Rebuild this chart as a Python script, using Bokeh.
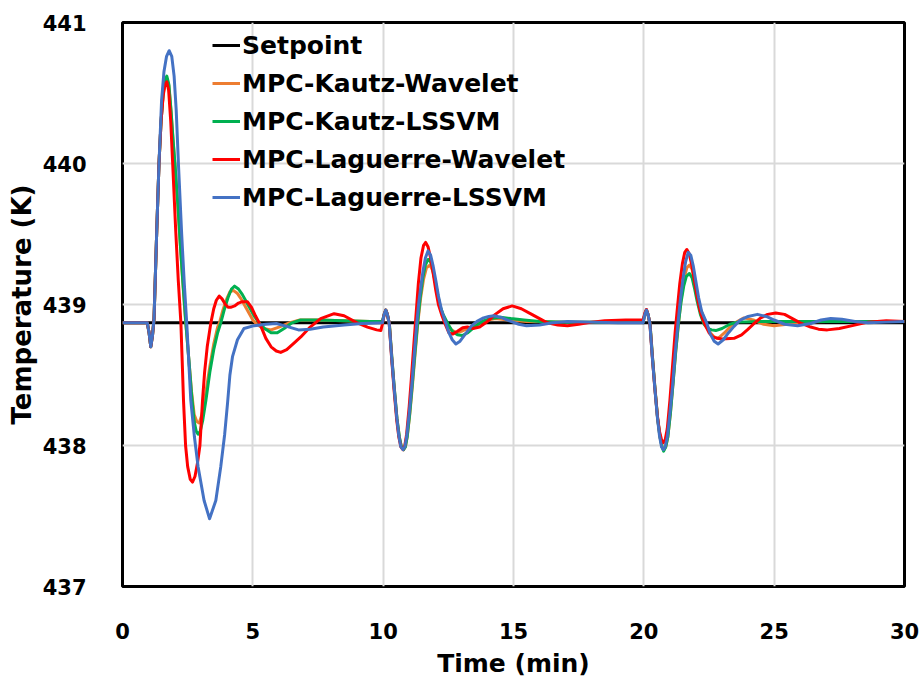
from bokeh.plotting import figure
from bokeh.models import Legend, LegendItem, FixedTicker
from bokeh.embed import file_html
from bokeh.resources import INLINE

# ---------------- data ----------------
x_ticks = [0, 5, 10, 15, 20, 25, 30]
y_ticks = [437, 438, 439, 440, 441]

series_names = ["Setpoint", "MPC-Kautz-Wavelet", "MPC-Kautz-LSSVM",
                "MPC-Laguerre-Wavelet", "MPC-Laguerre-LSSVM"]

t_sp = [0, 30]
T_sp = [438.87, 438.87]

# MPC-Kautz-Wavelet (orange)
t_kw = [0, 0.95, 1.02, 1.085, 1.15, 1.21, 1.315, 1.40, 1.48, 1.56, 1.63, 1.70, 1.78, 1.86, 1.94, 2.02, 2.12, 2.21, 2.32, 2.43,
        2.55, 2.65, 2.75, 2.85, 2.94, 3.05, 3.2, 3.35, 3.5, 3.65, 3.72, 3.85, 4.0, 4.12, 4.25, 4.4, 4.55, 4.7, 4.85, 5.0,
        5.15, 5.4, 5.7, 6.0, 6.4, 6.8, 7.5, 8.5, 9.5, 9.97,
        10.04, 10.1, 10.16, 10.24, 10.33, 10.43, 10.53, 10.62, 10.70, 10.78, 10.85, 10.92, 11.02, 11.12, 11.22, 11.33, 11.44, 11.55, 11.66, 11.8,
        11.9, 12.0, 12.1, 12.22, 12.35, 12.47, 12.62, 12.8, 13.0, 13.25, 13.55, 13.9, 14.3, 14.8, 15.5, 17.0, 18.5, 19.97,
        20.04, 20.1, 20.16, 20.24, 20.33, 20.43, 20.53, 20.62, 20.70, 20.77, 20.84, 20.92, 21.02, 21.12, 21.22, 21.33, 21.44, 21.55, 21.65, 21.75,
        21.85, 21.95, 22.05, 22.17, 22.38, 22.55, 22.7, 22.85, 23.1, 23.4, 23.84, 24.2, 24.6, 25.0, 25.5, 26.0, 27.0, 28.5, 30.0]
T_kw = [438.87, 438.87, 438.80, 438.70, 438.78, 438.90, 439.53, 440.00, 440.30, 440.49, 440.58, 440.60, 440.55, 440.37, 440.16, 439.97, 439.71, 439.44, 439.14, 438.86,
        438.60, 438.38, 438.22, 438.17, 438.16, 438.22, 438.38, 438.56, 438.72, 438.84, 438.87, 438.96, 439.04, 439.09, 439.10, 439.08, 439.04, 438.99, 438.94, 438.89,
        438.86, 438.83, 438.82, 438.84, 438.87, 438.89, 438.89, 438.885, 438.88, 438.88,
        438.93, 438.96, 438.93, 438.86, 438.63, 438.40, 438.19, 438.06, 437.99, 437.97, 437.99, 438.06, 438.22, 438.42, 438.64, 438.87, 439.05, 439.18, 439.26, 439.28,
        439.24, 439.16, 439.06, 438.96, 438.90, 438.86, 438.82, 438.80, 438.81, 438.83, 438.86, 438.885, 438.90, 438.89, 438.88, 438.875, 438.875, 438.875,
        438.93, 438.96, 438.93, 438.86, 438.63, 438.40, 438.19, 438.06, 437.99, 437.97, 437.99, 438.06, 438.23, 438.44, 438.66, 438.87, 439.05, 439.19, 439.26, 439.28,
        439.25, 439.17, 439.07, 438.97, 438.87, 438.80, 438.77, 438.76, 438.80, 438.86, 438.905, 438.89, 438.86, 438.85, 438.86, 438.875, 438.88, 438.88, 438.88]

# MPC-Kautz-LSSVM (green)
t_kl = [0, 0.95, 1.02, 1.085, 1.15, 1.21, 1.315, 1.40, 1.48, 1.56, 1.63, 1.70, 1.78, 1.86, 1.94, 2.02, 2.12, 2.21, 2.32, 2.43,
        2.55, 2.65, 2.75, 2.83, 2.9, 2.98, 3.08, 3.2, 3.35, 3.5, 3.65, 3.77, 3.9, 4.05, 4.18, 4.3, 4.45, 4.6, 4.75, 4.9,
        5.05, 5.24, 5.45, 5.7, 5.94, 6.2, 6.5, 6.84, 7.5, 8.5, 9.5, 9.97,
        10.04, 10.1, 10.16, 10.24, 10.33, 10.43, 10.53, 10.62, 10.70, 10.78, 10.85, 10.92, 11.02, 11.12, 11.22, 11.32, 11.42, 11.52, 11.62, 11.72,
        11.77, 11.87, 11.97, 12.07, 12.18, 12.3, 12.49, 12.65, 12.85, 13.04, 13.25, 13.5, 13.8, 14.1, 14.5, 14.9, 15.4, 16.0, 17.0, 18.0, 19.0, 19.97,
        20.04, 20.1, 20.16, 20.24, 20.33, 20.43, 20.53, 20.62, 20.70, 20.76, 20.84, 20.92, 21.02, 21.12, 21.22, 21.33, 21.43, 21.53, 21.63, 21.75,
        21.85, 21.95, 22.05, 22.17, 22.31, 22.45, 22.6, 22.76, 23.0, 23.3, 23.6, 24.5, 26.0, 28.0, 30.0]
T_kl = [438.87, 438.87, 438.80, 438.70, 438.78, 438.90, 439.53, 440.00, 440.30, 440.50, 440.59, 440.62, 440.56, 440.38, 440.17, 439.98, 439.72, 439.45, 439.15, 438.87,
        438.60, 438.36, 438.17, 438.10, 438.08, 438.10, 438.18, 438.32, 438.52, 438.68, 438.80, 438.87, 438.96, 439.05, 439.11, 439.13, 439.11, 439.07, 439.02, 438.97,
        438.92, 438.87, 438.83, 438.80, 438.80, 438.83, 438.87, 438.89, 438.89, 438.885, 438.88, 438.88,
        438.93, 438.96, 438.93, 438.86, 438.63, 438.40, 438.19, 438.06, 437.99, 437.97, 437.99, 438.06, 438.23, 438.44, 438.66, 438.87, 439.05, 439.19, 439.28, 439.32,
        439.32, 439.28, 439.19, 439.09, 438.99, 438.93, 438.86, 438.81, 438.785, 438.78, 438.80, 438.84, 438.88, 438.90, 438.91, 438.90, 438.89, 438.88, 438.875, 438.875, 438.875, 438.875,
        438.93, 438.96, 438.93, 438.86, 438.63, 438.40, 438.19, 438.06, 437.99, 437.96, 437.99, 438.06, 438.23, 438.44, 438.66, 438.87, 439.02, 439.13, 439.20, 439.22,
        439.19, 439.11, 439.02, 438.93, 438.86, 438.83, 438.82, 438.815, 438.83, 438.86, 438.875, 438.88, 438.88, 438.88, 438.88]

# MPC-Laguerre-Wavelet (red)
t_lw = [0, 0.95, 1.02, 1.085, 1.15, 1.21, 1.315, 1.40, 1.48, 1.56, 1.63, 1.70, 1.77, 1.85, 1.92, 2.04, 2.14, 2.24, 2.29, 2.34,
        2.42, 2.5, 2.6, 2.685, 2.78, 2.88, 2.97, 3.07, 3.15, 3.25, 3.39, 3.5, 3.6, 3.71, 3.82, 3.95, 4.05, 4.15, 4.3, 4.45,
        4.6, 4.79, 4.95, 5.1, 5.3, 5.5, 5.7, 5.9, 6.07, 6.3, 6.6, 6.84, 7.2, 7.6, 8.12, 8.5, 9.0, 9.4, 9.75, 9.91,
        9.97, 10.04, 10.1, 10.16, 10.23, 10.32, 10.42, 10.52, 10.6, 10.68, 10.76, 10.83, 10.9, 11.0, 11.08, 11.17, 11.25, 11.35, 11.45, 11.55,
        11.63, 11.72, 11.82, 11.92, 12.02, 12.12, 12.24, 12.38, 12.52, 12.66, 12.85, 13.05, 13.23, 13.45, 13.7, 14.0, 14.3, 14.6, 14.95, 15.3,
        15.7, 16.0, 16.3, 16.7, 17.07, 17.5, 18.0, 18.5, 19.3, 19.97,
        20.04, 20.1, 20.16, 20.23, 20.32, 20.42, 20.52, 20.6, 20.68, 20.75, 20.82, 20.9, 21.0, 21.1, 21.2, 21.28, 21.38, 21.48, 21.57, 21.65,
        21.74, 21.84, 21.94, 22.04, 22.15, 22.25, 22.34, 22.5, 22.65, 22.82, 23.0, 23.46, 23.75, 23.97, 24.2, 24.48, 24.75, 25.06, 25.4, 25.7,
        26.0, 26.4, 26.7, 27.04, 27.5, 28.0, 28.6, 29.3, 30.0]
T_lw = [438.87, 438.87, 438.80, 438.70, 438.78, 438.90, 439.53, 440.00, 440.30, 440.48, 440.56, 440.58, 440.52, 440.30, 440.02, 439.53, 439.17, 438.87, 438.60, 438.32,
        438.00, 437.85, 437.76, 437.74, 437.78, 437.88, 438.00, 438.32, 438.52, 438.70, 438.87, 438.97, 439.03, 439.06, 439.04, 439.00, 438.98, 438.98, 438.99, 439.01,
        439.02, 439.02, 438.98, 438.92, 438.85, 438.76, 438.70, 438.67, 438.66, 438.68, 438.73, 438.77, 438.84, 438.90, 438.935, 438.92, 438.87, 438.84, 438.82, 438.815,
        438.86, 438.93, 438.96, 438.93, 438.87, 438.63, 438.39, 438.18, 438.06, 437.99, 437.97, 438.00, 438.08, 438.28, 438.47, 438.70, 438.90, 439.15, 439.33, 439.42,
        439.44, 439.41, 439.33, 439.22, 439.10, 439.00, 438.93, 438.86, 438.80, 438.79, 438.81, 438.835, 438.84, 438.83, 438.84, 438.88, 438.93, 438.97, 438.99, 438.97,
        438.93, 438.90, 438.87, 438.855, 438.85, 438.86, 438.875, 438.885, 438.89, 438.89,
        438.94, 438.965, 438.93, 438.87, 438.64, 438.41, 438.21, 438.10, 438.04, 438.02, 438.04, 438.12, 438.32, 438.56, 438.80, 438.96, 439.15, 439.29, 439.37, 439.39,
        439.36, 439.28, 439.17, 439.06, 438.96, 438.90, 438.86, 438.80, 438.77, 438.76, 438.755, 438.76, 438.785, 438.82, 438.86, 438.905, 438.93, 438.94, 438.93, 438.90,
        438.87, 438.84, 438.825, 438.82, 438.83, 438.85, 438.875, 438.885, 438.88]

# MPC-Laguerre-LSSVM (blue)
t_ll = [0, 0.95, 1.02, 1.085, 1.15, 1.21, 1.315, 1.40, 1.50, 1.59, 1.69, 1.79, 1.89, 1.98, 2.06, 2.15, 2.27, 2.37, 2.47, 2.62,
        2.76, 2.9, 3.13, 3.34, 3.58, 3.77, 3.92, 4.03, 4.12, 4.22, 4.41, 4.66, 5.05, 5.5, 5.9, 6.3, 6.75, 7.2, 7.7, 8.5,
        9.2, 9.97,
        10.04, 10.1, 10.16, 10.23, 10.32, 10.42, 10.52, 10.6, 10.68, 10.76, 10.83, 10.9, 11.0, 11.09, 11.19, 11.29, 11.37, 11.44, 11.53, 11.62,
        11.72, 11.82, 11.92, 12.02, 12.12, 12.24, 12.4, 12.52, 12.65, 12.79, 12.95, 13.15, 13.4, 13.6, 13.85, 14.05, 14.25, 14.5, 14.9, 15.2,
        15.5, 16.0, 16.5, 17.07, 18.0, 19.0, 19.97,
        20.04, 20.1, 20.16, 20.23, 20.32, 20.42, 20.52, 20.6, 20.68, 20.75, 20.82, 20.9, 21.0, 21.1, 21.2, 21.31, 21.4, 21.5, 21.6, 21.7,
        21.8, 21.9, 22.0, 22.1, 22.22, 22.41, 22.55, 22.7, 22.85, 23.05, 23.25, 23.46, 23.7, 24.0, 24.36, 24.7, 25.0, 25.4, 25.9, 26.4,
        26.8, 27.17, 27.6, 28.1, 28.6, 29.3, 30.0]
T_ll = [438.87, 438.87, 438.80, 438.70, 438.78, 438.90, 439.53, 440.00, 440.45, 440.65, 440.76, 440.80, 440.76, 440.62, 440.38, 439.98, 439.50, 439.15, 438.85, 438.32,
        438.06, 437.85, 437.61, 437.48, 437.61, 437.85, 438.08, 438.30, 438.50, 438.63, 438.75, 438.83, 438.85, 438.86, 438.865, 438.845, 438.82, 438.825, 438.84, 438.855,
        438.865, 438.87,
        438.93, 438.96, 438.93, 438.87, 438.64, 438.41, 438.20, 438.07, 437.99, 437.97, 437.99, 438.06, 438.23, 438.41, 438.64, 438.87, 439.02, 439.12, 439.24, 439.33,
        439.38, 439.35, 439.27, 439.17, 439.06, 438.96, 438.87, 438.80, 438.75, 438.72, 438.74, 438.79, 438.85, 438.88, 438.905, 438.915, 438.92, 438.91, 438.88, 438.86,
        438.85, 438.855, 438.87, 438.88, 438.875, 438.87, 438.87,
        438.93, 438.96, 438.93, 438.87, 438.64, 438.41, 438.20, 438.07, 437.99, 437.97, 437.99, 438.06, 438.23, 438.42, 438.65, 438.87, 439.03, 439.18, 439.30, 439.37,
        439.35, 439.27, 439.16, 439.05, 438.95, 438.87, 438.79, 438.74, 438.72, 438.75, 438.80, 438.845, 438.89, 438.915, 438.93, 438.915, 438.89, 438.86, 438.85, 438.865,
        438.89, 438.90, 438.895, 438.88, 438.87, 438.875, 438.88]

colors = ["#000000", "#ED7D31", "#00B050", "#FF0000", "#4472C4"]

# ---------------- figure ----------------
FONT = "DejaVu Sans"

p = figure(width=924, height=680, x_range=(0, 30), y_range=(437, 441),
           output_backend="svg", toolbar_location=None,
           min_border_left=122, min_border_right=20,
           min_border_top=22, min_border_bottom=94)

p.background_fill_color = "white"
p.border_fill_color = "white"
p.outline_line_color = "black"
p.outline_line_width = 3

p.xgrid.grid_line_color = "#d9d9d9"
p.ygrid.grid_line_color = "#d9d9d9"
p.xgrid.grid_line_width = 2
p.ygrid.grid_line_width = 2

p.xaxis.ticker = FixedTicker(ticks=x_ticks)
p.yaxis.ticker = FixedTicker(ticks=y_ticks)

for ax in (p.xaxis[0], p.yaxis[0]):
    ax.axis_line_color = None
    ax.major_tick_line_color = None
    ax.minor_tick_line_color = None
    ax.major_label_text_font = FONT
    ax.major_label_text_font_style = "bold"
    ax.major_label_text_font_size = "21px"
    ax.major_label_text_color = "black"
    ax.axis_label_text_font = FONT
    ax.axis_label_text_font_style = "bold"
    ax.axis_label_text_color = "black"

p.xaxis.axis_label_text_font_size = "25px"
p.yaxis.axis_label_text_font_size = "26px"
p.xaxis.axis_label = "Time (min)"
p.yaxis.axis_label = "Temperature (K)"
p.xaxis.major_label_standoff = 30
p.yaxis.major_label_standoff = 30
p.xaxis.axis_label_standoff = 7
p.yaxis.axis_label_standoff = 3

r_sp = p.line(t_sp, T_sp, line_color=colors[0], line_width=3)
r_kw = p.line(t_kw, T_kw, line_color=colors[1], line_width=3, line_join="round")
r_kl = p.line(t_kl, T_kl, line_color=colors[2], line_width=3, line_join="round")
r_lw = p.line(t_lw, T_lw, line_color=colors[3], line_width=3, line_join="round")
r_ll = p.line(t_ll, T_ll, line_color=colors[4], line_width=3, line_join="round")

renderers = [r_sp, r_kw, r_kl, r_lw, r_ll]
legend = Legend(items=[LegendItem(label=n, renderers=[r]) for n, r in zip(series_names, renderers)],
                location=(90, 370), orientation="vertical")
legend.border_line_color = None
legend.background_fill_alpha = 0
legend.padding = 0
legend.margin = 0
legend.spacing = 0
legend.glyph_width = 28
legend.glyph_height = 38
legend.label_height = 38
legend.label_standoff = 2
legend.label_text_font = FONT
legend.label_text_font_style = "bold"
legend.label_text_font_size = "25px"
legend.label_text_color = "black"
p.add_layout(legend)

open("out.html", "w").write(file_html(p, INLINE))
